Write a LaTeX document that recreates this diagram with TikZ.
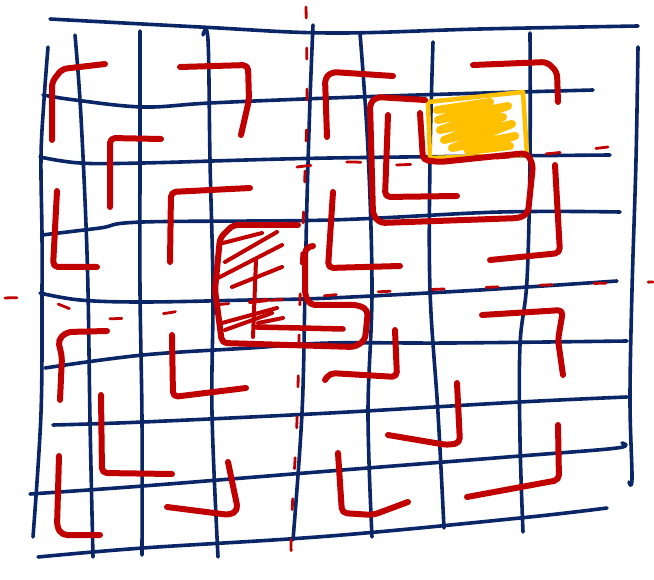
\documentclass[tikz,border=0pt]{standalone}
\usetikzlibrary{calc}
\definecolor{navyc}{RGB}{10,38,102}
\definecolor{redc}{RGB}{192,0,0}
\definecolor{orangec}{RGB}{255,192,0}
\begin{document}
\begin{tikzpicture}[x=1pt,y=-1pt,
  gridline/.style={navyc,line width=3.6pt,line cap=round,line join=round},
  pen/.style={redc,line width=6pt,line cap=round,line join=round,rounded corners=5pt},
  hatchline/.style={redc,line width=4pt,line cap=round},
  guide/.style={redc,line width=2.8pt,line cap=round,dash pattern=on 11pt off 30pt}]
\useasboundingbox (0,0) rectangle (654,580);
\fill[white] (0,0) rectangle (654,580);
% horizontal grid lines
\draw[gridline] plot[smooth,tension=0.6] coordinates {(50,19) (200,27) (330,33) (480,29) (638,26)};
\draw[gridline] plot[smooth,tension=0.6] coordinates {(43,95) (75,100) (143,107) (210,103) (330,98) (450,94) (593,90)};
\draw[gridline] plot[smooth,tension=0.6] coordinates {(40,157) (80,163) (143,163) (330,158) (610,155)};
\draw[gridline] plot[smooth,tension=0.6] coordinates {(42,235) (100,228) (143,222) (330,220) (500,212) (620,212)};
\draw[gridline] plot[smooth,tension=0.6] coordinates {(40,293) (80,300) (143,302) (250,300) (330,298) (480,290) (617,281)};
\draw[gridline] plot[smooth,tension=0.6] coordinates {(45,368) (143,355) (250,348) (330,343) (450,343) (627,341)};
\draw[gridline] plot[smooth,tension=0.6] coordinates {(53,425) (143,422) (330,413) (520,402) (627,397)};
\draw[gridline] plot[smooth,tension=0.6] coordinates {(30,494) (143,486) (330,471) (520,456) (617,448) (622,443)};
\draw[gridline] plot[smooth,tension=0.6] coordinates {(38,557) (143,548) (330,536) (520,518) (607,508)};
% vertical grid lines
\draw[gridline] plot[smooth,tension=0.6] coordinates {(48,47) (44,100) (41,157) (42,235) (42,293) (41,413) (33,537)};
\draw[gridline] plot[smooth,tension=0.6] coordinates {(75,35) (80,100) (85,200) (88,290) (90,420) (93,557)};
\draw[gridline] plot[smooth,tension=0.6] coordinates {(140,31) (140,160) (140,290) (142,420) (142,555)};
\draw[gridline] plot[smooth,tension=0.6] coordinates {(203,35) (208,40) (210,160) (213,290) (212,413) (218,557)};
\draw[gridline] plot[smooth,tension=0.6] coordinates {(313,25) (310,100) (307,200) (305,290) (302,413) (293,540)};
\draw[gridline] plot[smooth,tension=0.6] coordinates {(360,33) (368,150) (372,290) (368,413) (372,537)};
\draw[gridline] plot[smooth,tension=0.6] coordinates {(433,42) (430,160) (430,290) (438,413) (444,528)};
\draw[gridline] plot[smooth,tension=0.6] coordinates {(530,33) (530,160) (527,280) (520,345) (520,440) (523,532)};
\draw[gridline] plot[smooth,tension=0.6] coordinates {(638,47) (636,160) (632,290) (630,400) (632,478) (629,482)};
% red dashed guides
\draw[guide] plot[smooth,tension=0.6] coordinates {(306,7) (307,100) (304,200) (300,300) (297,420) (291,545) (298,578)};
\draw[guide,dash pattern=on 12pt off 42pt] plot[smooth,tension=0.6] coordinates {(5,298) (45,300) (100,318) (160,314) (215,305) (300,298) (357,293) (420,290) (495,287) (575,284) (653,282)};
\draw[guide,dash pattern=on 14pt off 36pt] plot[smooth,tension=0.6] coordinates {(297,167) (350,162) (395,165) (470,160) (545,154) (608,147)};
% orange scribble
\draw[orangec,line width=8pt,line join=round,line cap=round] (437,110) -- (490,102) -- (438,120) -- (508,106) -- (440,130) -- (503,117) -- (444,140) -- (512,124) -- (452,148) -- (515,136) -- (468,151) -- (510,146);
\draw[orangec,line width=4.5pt,line join=round] (428,102) -- (523,92) -- (527,155) -- (430,158) -- cycle;
% red strokes
\draw[pen] (52,140) -- (52,82) -- (62,69) -- (105,64);
\draw[pen] (180,67) -- (248,65) -- (249,100) -- (241,135);
\draw[pen] (110,207) -- (110,138) -- (161,139);
\draw[pen] (57,191) -- (53,267) -- (97,267);
\draw[pen] (170,262) -- (171,192) -- (250,188);
\draw[pen] (327,137) -- (325,78) -- (332,72) -- (393,76);
\draw[pen] (473,65) -- (547,62) -- (557,72) -- (558,102);
\draw[pen] (420,113) -- (423,160) -- (440,162) -- (527,153) -- (533,165) -- (528,213) -- (520,218) -- (380,223) -- (373,215) -- (370,103) -- (377,97) -- (425,100);
\draw[pen] (388,115) -- (385,197) -- (457,196);
\draw[pen] (333,192) -- (328,268) -- (400,266);
\draw[pen] (555,165) -- (560,253) -- (490,260);
\draw[pen] (60,400) -- (62,357) -- (58,340) -- (67,332) -- (107,331);
\draw[pen] (172,335) -- (173,397) -- (246,388);
\draw[pen] (101,395) -- (102,473) -- (172,474);
\draw[pen] (59,456) -- (57,527) -- (62,535) -- (100,535);
\draw[pen] (228,462) -- (238,510) -- (230,515) -- (167,507);
\draw[pen] (395,330) -- (397,377) -- (330,373) -- (325,380);
\draw[pen] (482,315) -- (563,310) -- (558,340) -- (563,375);
\draw[pen] (457,383) -- (460,443) -- (447,445) -- (388,435);
\draw[pen] (338,453) -- (342,513) -- (373,515) -- (408,502);
\draw[pen] (558,425) -- (559,480) -- (467,497);
% hatched square
\draw[pen] (298,225) -- (233,225) -- (220,238) -- (215,290) -- (222,343) -- (355,347) -- (365,340) -- (368,310) -- (358,305) -- (310,305) -- (305,295) -- (305,248) -- (313,246);
\draw[hatchline] (223,243) -- (262,233);
\draw[hatchline] (225,262) -- (277,232);
\draw[hatchline] (218,278) -- (282,245);
\draw[hatchline] (232,287) -- (282,267);
\draw[hatchline] (256,260) -- (253,337);
\draw[hatchline] (250,302) -- (267,300);
\draw[hatchline] (222,323) -- (277,308);
\draw[hatchline] (225,330) -- (272,313);
\draw[hatchline] (258,323) -- (283,318);
\draw[hatchline,line width=5.5pt] (257,327) -- (343,329);
\end{tikzpicture}
\end{document}
